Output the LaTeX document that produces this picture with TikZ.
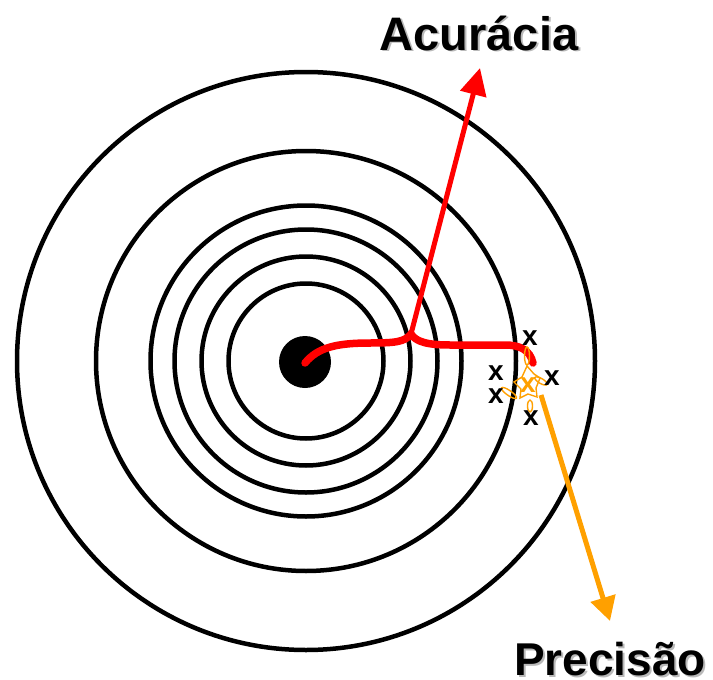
\documentclass[tikz,border=0pt]{standalone}
\usepackage{fontspec}
\setmainfont{Liberation Sans}
\usetikzlibrary{arrows.meta}
\definecolor{myorange}{RGB}{255,160,0}
\definecolor{myshadow}{RGB}{185,185,185}
\begin{document}
\begin{tikzpicture}[x=1pt,y=-1pt,
  ring/.style={draw=black,line width=4.5pt},
  xmark/.style={inner sep=0pt,font=\fontsize{28}{28}\selectfont\bfseries},
  biglabel/.style={inner sep=0pt,anchor=base,font=\fontsize{47}{50}\selectfont\bfseries},
  smlabel/.style={inner sep=0pt,anchor=base,font=\fontsize{46}{50}\selectfont\bfseries},
  scribble/.style={draw=myorange,line width=1.4pt}]
\useasboundingbox (0,0) rectangle (713,680);
% target rings
\coordinate (c) at (306,361);
\foreach \r in {289,210,155.5,131.5,104.5,77.5}
  \draw[ring] (c) circle (\r);
\fill[black] (305,362) circle (26);
% red accuracy brace
\coordinate (start) at (305,363);
\coordinate (cusp) at (411,334);
\coordinate (bend) at (533,363);
\draw[red,line width=7.5pt,line cap=round]
  (start) .. controls (318,347) and (338,343) .. (370,343)
  .. controls (395,343) and (405,342) .. (cusp)
  .. controls (416,342) and (428,345) .. (450,345)
  -- (505,345) .. controls (520,345) and (530,350) .. (bend);
% labels
\node[biglabel,text=myshadow] (accsh) at (481,52) {Acurácia};
\node[biglabel] (acc) at (479,50) {Acurácia};
\node[smlabel,text=myshadow] (presh) at (612,677) {Precisão};
\node[smlabel] (pre) at (610,675) {Precisão};
% red arrow
\coordinate (acctip) at (480,68);
\draw[red,line width=5pt,-{Triangle[length=27pt,width=26pt]}] (cusp) -- (acctip);
% orange scribble around the cluster
\draw[scribble] (527,356) ellipse [x radius=2.5, y radius=9];
\draw[scribble,rotate around={-30:(541,381)}] (541,381) ellipse [x radius=7, y radius=2.5];
\draw[scribble,rotate around={-35:(509,393)}] (509,393) ellipse [x radius=9, y radius=2.5];
\draw[scribble] (530,406) ellipse [x radius=2.5, y radius=6];
\draw[scribble] (527,366) -- (534,374) -- (540,378) -- (536,388) -- (537,397)
  -- (528,394) -- (520,398) -- (521,389) -- (514,382) -- (522,377) -- cycle;
% orange arrow
\coordinate (prefrom) at (541,395);
\coordinate (pretip) at (610,621);
\draw[myorange,line width=5pt,-{Triangle[length=24pt,width=25pt]}] (prefrom) -- (pretip);
% x marks
\node[xmark] (x1) at (530,338) {x};
\node[xmark] (x2) at (496,373) {x};
\node[xmark] (x3) at (496,396) {x};
\node[xmark] (x4) at (552,378) {x};
\node[xmark] (x5) at (531,418) {x};
\node[xmark,text=myorange] (x6) at (528,385) {x};
\end{tikzpicture}
\end{document}
